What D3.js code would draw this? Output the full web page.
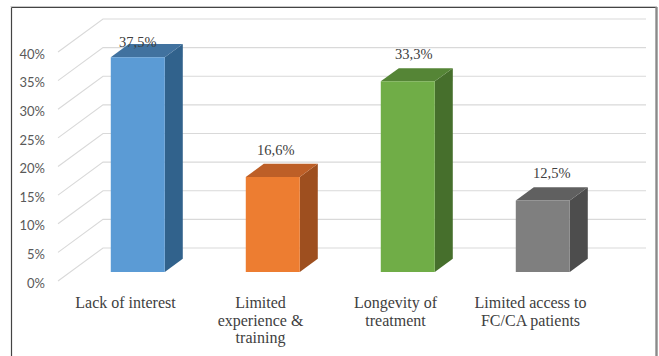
<!DOCTYPE html>
<html>
<head>
<meta charset="utf-8">
<script src="https://cdn.jsdelivr.net/npm/d3@7"></script>
<style>
  html, body { margin: 0; padding: 0; background: #fff; }
  svg { display: block; }
  .serif { font-family: "Liberation Serif", "Times New Roman", Tinos, "Nimbus Roman", "Noto Serif", "DejaVu Serif", FreeSerif, serif; }
</style>
</head>
<body>
<svg id="chart" width="659" height="356"></svg>
<script>
// Survey results: reasons given, share of respondents
const categories = ["Lack of interest", "Limited\nexperience &\ntraining", "Longevity of\ntreatment", "Limited access to\nFC/CA patients"];
const values = [37.5, 16.6, 33.3, 12.5];
const valueLabels = ["37,5%", "16,6%", "33,3%", "12,5%"];
const tickValues = [0, 5, 10, 15, 20, 25, 30, 35, 40];
const tickLabels = ["0%", "5%", "10%", "15%", "20%", "25%", "30%", "35%", "40%"];

const faceColors = [
  { front: "#5b9bd5", top: "#41729f", side: "#31628c" },
  { front: "#ed7d31", top: "#bd5f27", side: "#9e4f1f" },
  { front: "#70ad47", top: "#558536", side: "#466f2c" },
  { front: "#7f7f7f", top: "#606060", side: "#4d4d4d" }
];

const svg = d3.select("#chart");

// Oblique projection: depth t (0 = front edge of floor, 1 = back wall)
const depth = { dx: 45, dy: -33 };
const frontLeft = 58, frontRight = 598, backRight = 646;

const x = d3.scaleBand().domain(categories).range([frontLeft, frontRight])
  .paddingInner(0.6).paddingOuter(0.3);
const y = d3.scaleLinear().domain([0, 40]).range([281, 52]);

const P = (px, v, t) => [px + depth.dx * t, y(v) + depth.dy * t];

// Chart frame
const frame = svg.append("g");
frame.append("line").attr("x1", 10.5).attr("y1", 6.5).attr("x2", 657).attr("y2", 6.5)
  .attr("stroke", "#c8c8c8").attr("stroke-width", 1);
frame.append("line").attr("x1", 11.5).attr("y1", 7.5).attr("x2", 656).attr("y2", 7.5)
  .attr("stroke", "#444").attr("stroke-width", 1);
frame.append("line").attr("x1", 11.5).attr("y1", 7.5).attr("x2", 11.5).attr("y2", 356)
  .attr("stroke", "#444").attr("stroke-width", 1.2);
frame.append("line").attr("x1", 656.5).attr("y1", 7).attr("x2", 656.5).attr("y2", 356)
  .attr("stroke", "#8a8a8a").attr("stroke-width", 2.4);

// Gridlines on the side wall and back wall
const line = d3.line();
svg.append("g").selectAll("path").data(tickValues).join("path")
  .attr("d", v => line([P(frontLeft, v, 0), P(frontLeft, v, 1), [backRight, P(frontLeft, v, 1)[1]]]))
  .attr("fill", "none").attr("stroke", "#d9d9d9").attr("stroke-width", 1.1);

// Value axis labels along the front edge of the side wall
const axis = svg.append("g").attr("transform", `translate(${frontLeft},2)`)
  .call(d3.axisLeft(y).tickValues(tickValues).tickSize(0).tickPadding(13)
    .tickFormat((d, i) => tickLabels[i]));
axis.select(".domain").remove();
axis.attr("font-family", "Lato, 'Noto Sans', sans-serif").attr("font-size", 13);
axis.selectAll("text").attr("fill", "#595959");

// 3D columns
const barT0 = 0.273, barDT = 0.4;
const bars = svg.append("g").selectAll("g").data(values).join("g");
bars.each(function (v, i) {
  const g = d3.select(this);
  const x0 = x(categories[i]), x1 = x0 + x.bandwidth();
  const c = faceColors[i];
  const poly = pts => "M" + pts.map(p => p.join(",")).join("L") + "Z";
  // right side face
  g.append("path").attr("fill", c.side).attr("d", poly([
    P(x1, 0, barT0), P(x1, 0, barT0 + barDT), P(x1, v, barT0 + barDT), P(x1, v, barT0)
  ]));
  // top face
  g.append("path").attr("fill", c.top).attr("d", poly([
    P(x0, v, barT0), P(x1, v, barT0), P(x1, v, barT0 + barDT), P(x0, v, barT0 + barDT)
  ]));
  // front face
  g.append("path").attr("fill", c.front).attr("d", poly([
    P(x0, 0, barT0), P(x1, 0, barT0), P(x1, v, barT0), P(x0, v, barT0)
  ]));
});

// Value labels above each column (held below the top of the plot)
svg.append("g").attr("class", "serif").attr("font-size", 14.5)
  .selectAll("text").data(values).join("text")
  .attr("x", (v, i) => P(x(categories[i]) + x.bandwidth() / 2, v, barT0)[0] + 3 * i)
  .attr("y", (v, i) => Math.max(P(0, v, barT0 + barDT)[1] - 9, 47))
  .attr("text-anchor", "middle")
  .attr("fill", "#404040")
  .text((v, i) => valueLabels[i]);

// Category labels along the front edge of the floor
const catG = svg.append("g").attr("class", "serif").attr("font-size", 16)
  .selectAll("text").data(categories).join("text")
  .attr("text-anchor", "middle")
  .attr("fill", "#404040");
catG.each(function (d) {
  const t = d3.select(this);
  const cx = x(d) + x.bandwidth() / 2;
  d.split("\n").forEach((s, k) => {
    t.append("tspan").attr("x", cx).attr("y", 308 + k * 17.5).text(s);
  });
});
</script>
</body>
</html>
